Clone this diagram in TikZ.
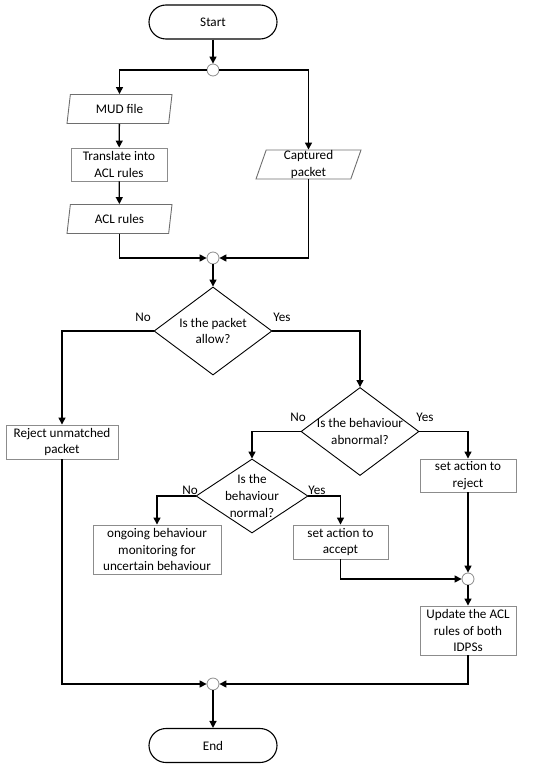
\documentclass[tikz,border=0pt]{standalone}
\usepackage{fontspec}
\setmainfont{Carlito}
\usepackage{tikz}
\usetikzlibrary{shapes.geometric, arrows.meta, positioning}
\definecolor{boxgray}{RGB}{140,140,140}
\definecolor{iogray}{RGB}{110,110,110}
\tikzset{
  txt/.style={font=\fontsize{13.2}{16.8}\selectfont, align=center},
  term/.style={txt, draw=black, line width=1.1bp, rounded corners=17bp, minimum width=128bp,
    minimum height=34bp, inner sep=0pt},
  io/.style={txt, trapezium, trapezium left angle=70, trapezium right angle=110,
    trapezium stretches body, draw=iogray, line width=0.9bp, minimum width=105bp,
    minimum height=29bp, inner sep=0pt},
  proc/.style={txt, draw=boxgray, line width=0.9bp, inner sep=0pt},
  dec/.style={diamond, draw=black, line width=0.9bp, inner sep=0pt, minimum width=118bp,
    minimum height=88bp},
  dectxt/.style={txt, inner sep=0pt},
  junc/.style={circle, draw=boxgray, fill=white, line width=0.8bp, minimum size=12bp, inner sep=0pt},
  flow/.style={-{Triangle[length=7bp, width=7bp]}, line width=1.3bp, draw=black},
  line/.style={line width=1.3bp, draw=black},
  lbl/.style={txt, inner sep=0pt},
}

\begin{document}
\begin{tikzpicture}[x=1bp, y=-1bp]
  \useasboundingbox (0,0) rectangle (550,769);
  % start and input branches
  \node[term] (start) at (213,22) {Start};
  \node[junc] (j1) at (213,70) {};
  \node[io] (mud) at (119.5,109) {MUD file};
  \node[proc, minimum width=96bp, minimum height=33bp] (trans) at (119,164.5) {Translate into\\ACL rules};
  \node[io] (acl) at (119.5,219) {ACL rules};
  \node[io] (cap) at (308.5,164.5) {Captured\\packet};
  \node[junc] (j2) at (213,258) {};
  % decisions
  \node[dec] (d1) at (213,331) {};
  \node[dectxt] (d1t) at (d1) {Is the packet\\allow?};
  \node[dec] (d2) at (360,431.5) {};
  \node[dectxt] (d2t) at (d2) {Is the behaviour\\abnormal?};
  \node[dec, minimum width=112bp, minimum height=74bp] (d3) at (252,496) {};
  \node[dectxt] (d3t) at (d3) {Is the\\behaviour\\normal?};
  % actions
  \node[proc, minimum width=112bp, minimum height=34bp] (rej) at (62,442) {Reject unmatched\\packet};
  \node[proc, minimum width=96bp, minimum height=33bp] (setrej) at (468,475.5) {set action to\\reject};
  \node[proc, minimum width=128bp, minimum height=49bp] (mon) at (157,549.5) {ongoing behaviour\\monitoring for\\uncertain behaviour};
  \node[proc, minimum width=95bp, minimum height=34bp] (setacc) at (340.5,542) {set action to\\accept};
  \node[junc] (j3) at (468,579) {};
  \node[proc, minimum width=96bp, minimum height=49bp] (upd) at (468,630.5) {Update the ACL\\rules of both\\IDPSs};
  \node[junc] (j4) at (213,684) {};
  \node[term] (end) at (213,745.5) {End};
  % branch labels
  \node[lbl] (no1) at (143,317) {No};
  \node[lbl] (yes1) at (282,317) {Yes};
  \node[lbl] (no2) at (298,417) {No};
  \node[lbl] (yes2) at (425,417) {Yes};
  \node[lbl] (no3) at (190,490) {No};
  \node[lbl] (yes3) at (317,490) {Yes};
  % connectors
  \draw[flow] (start) -- (j1);
  \draw[flow] (j1.west) -| (mud.north);
  \draw[flow] (j1.east) -| (cap.north);
  \draw[flow] (mud) -- (trans);
  \draw[flow] (trans) -- (acl);
  \draw[flow] (acl.south) |- (j2.west);
  \draw[flow] (cap.south) |- (j2.east);
  \draw[flow] (j2) -- (d1);
  \draw[flow] (d1.west) -| (rej.north);
  \draw[flow] (d1.east) -| (d2.north);
  \draw[flow] (d2.west) -| (d3.north);
  \draw[flow] (d2.east) -| (setrej.north);
  \draw[flow] (d3.west) -| (mon.north);
  \draw[flow] (d3.east) -| (setacc.north);
  \draw[flow] (setacc.south) |- (j3.west);
  \draw[flow] (setrej) -- (j3);
  \draw[flow] (j3) -- (upd);
  \draw[flow] (upd.south) |- (j4.east);
  \draw[flow] (rej.south) |- (j4.west);
  \draw[flow] (j4) -- (end);
\end{tikzpicture}
\end{document}
